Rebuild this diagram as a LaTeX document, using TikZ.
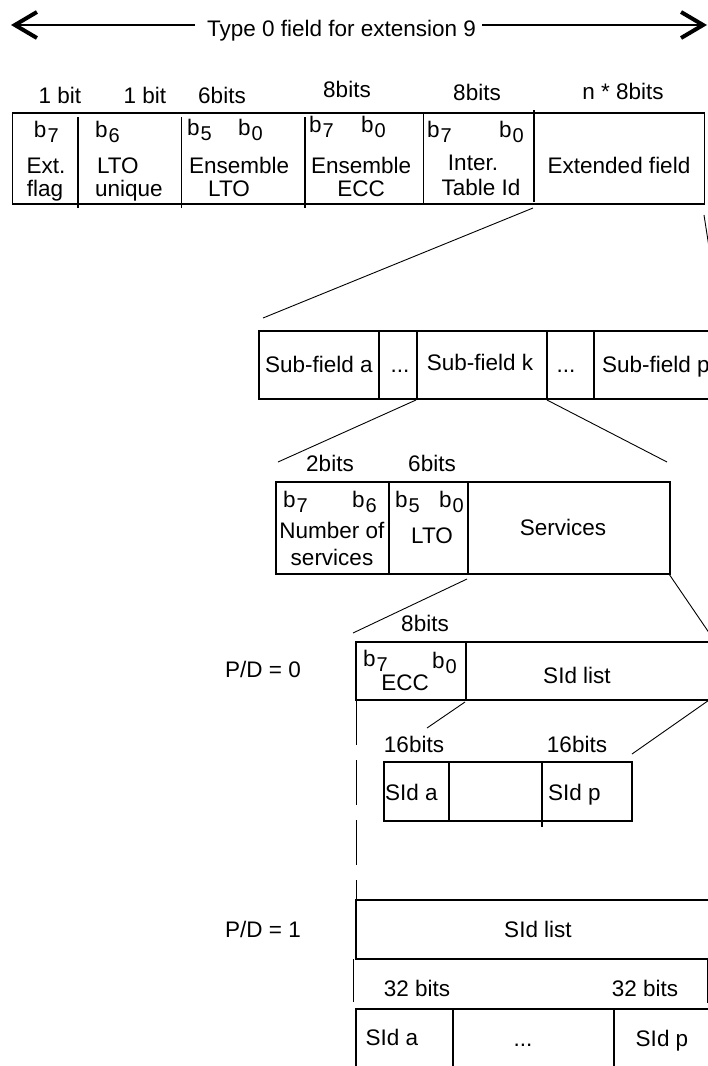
\documentclass[tikz,border=0pt]{standalone}
\usepackage{fontspec}
\setmainfont{Liberation Sans}
\usetikzlibrary{arrows.meta}
\newcommand{\bsub}[1]{b\kern1pt\raisebox{-5pt}{\fontsize{20}{22}\selectfont #1}}
\begin{document}
\begin{tikzpicture}[x=1pt,y=-1pt,
  every node/.style={font=\fontsize{22.5}{27}\selectfont, inner sep=0pt, outer sep=0pt},
  lb/.style={anchor=base},
  lw/.style={anchor=base west},
  box/.style={line width=1.6pt},
  cn/.style={line width=0.9pt},
  tipline/.style={line width=2.6pt, -{Straight Barb[length=22pt,width=26pt,line width=4pt]}}]
\useasboundingbox (0,0) rectangle (708,1066);
\clip (0,0) rectangle (708,1066);

% ---- title arrow
\node[lw] (title) at (207,36.5) {Type 0 field for extension 9};
\coordinate (tL) at (195,25); \coordinate (tR) at (482,25);
\coordinate (eL) at (11,25);  \coordinate (eR) at (707,25);
\draw[tipline] (tL) -- (eL);
\draw[tipline] (tR) -- (eR);

% ---- top field
\node[lb] (h1) at (60,103) {1 bit};
\node[lb] (h2) at (145,103) {1 bit};
\node[lb] (h3) at (222,103) {6bits};
\node[lb] (h4) at (347,97) {8bits};
\node[lb] (h5) at (477,100) {8bits};
\node[lb] (h6) at (623,99) {n * 8bits};

\draw[box] (12.5,113) rectangle (704.5,204);
\draw[box] (78,117) -- (78,208) (181.5,117) -- (181.5,208) (305,117) -- (305,208)
           (423.5,113) -- (423.5,204) (534,110) -- (534,202);

\node[lw] (t1b) at (34,137) {\bsub{7}};
\node[lb] (t1a) at (46,173) {Ext.};
\node[lb] (t1c) at (45,196) {flag};
\node[lw] (t2b) at (95,137) {\bsub{6}};
\node[lw] (t2a) at (97,173) {LTO};
\node[lw] (t2c) at (95,196) {unique};
\node[lw] (t3b) at (187,135) {\bsub{5}};
\node[lw] (t3d) at (238,135) {\bsub{0}};
\node[lw] (t3a) at (189,173) {Ensemble};
\node[lb] (t3c) at (229,196) {LTO};
\node[lw] (t4b) at (309,132) {\bsub{7}};
\node[lw] (t4d) at (361,132) {\bsub{0}};
\node[lw] (t4a) at (311,173) {Ensemble};
\node[lb] (t4c) at (361,196) {ECC};
\node[lw] (t5b) at (427,137) {\bsub{7}};
\node[lw] (t5d) at (499,137) {\bsub{0}};
\node[lb] (t5a) at (473,170) {Inter.};
\node[lb] (t5c) at (481,195) {Table Id};
\node[lb] (t6a) at (619,173) {Extended field};

% ---- sub-field row
\draw[box] (259,331) rectangle (725,399);
\draw[box] (379,331) -- (379,399) (417,331) -- (417,399) (547,331) -- (547,399) (594,331) -- (594,399);
\node[lb] (sa) at (319,372) {Sub-field a};
\node[lb] (sd1) at (400,372) {...};
\node[lb] (sk) at (480,370) {Sub-field k};
\node[lb] (sd2) at (566,372) {...};
\node[lw] (sp) at (602,372) {Sub-field p};

% ---- services row
\node[lb] (b2) at (330,471) {2bits};
\node[lb] (b6) at (432,471) {6bits};
\draw[box] (276,482) rectangle (670,574);
\draw[box] (389,482) -- (389,574) (468,482) -- (468,574);
\node[lw] (n7) at (283,507) {\bsub{7}};
\node[lw] (n6) at (352,507) {\bsub{6}};
\node[lw] (n5) at (395,507) {\bsub{5}};
\node[lw] (n0) at (439,507) {\bsub{0}};
\node[lb] (nn) at (332,538) {Number of};
\node[lb] (ns) at (332,565) {services};
\node[lb] (nl) at (432,543) {LTO};
\node[lb] (nv) at (563,535) {Services};

% ---- P/D = 0
\node[lb] (pd0) at (263,677) {P/D = 0};
\node[lb] (e8) at (425,631) {8bits};
\draw[box] (356,642) rectangle (712,700);
\draw[box] (466,642) -- (466,700);
\node[lw] (e7) at (363,666) {\bsub{7}};
\node[lw] (e0) at (432,668) {\bsub{0}};
\node[lb] (ee) at (405,690) {ECC};
\node[lb] (el) at (577,683) {SId list};

\node[lb] (s16a) at (414,752) {16bits};
\node[lb] (s16b) at (577,752) {16bits};
\draw[box] (384,762) rectangle (632,821);
\draw[box] (449,762) -- (449,821) (542,762) -- (542,827);
\node[lw] (sida) at (385,800) {SId a};
\node[lw] (sidp) at (548,800) {SId p};

% ---- P/D = 1
\node[lb] (pd1) at (263,937) {P/D = 1};
\draw[box] (356,900) rectangle (712,959);
\node[lb] (l1) at (538,937) {SId list};
\node[lb] (s32a) at (417,996) {32 bits};
\node[lb] (s32b) at (645,996) {32 bits};
\draw[box] (356,1009) rectangle (712,1080);
\draw[box] (453,1009) -- (453,1080) (614,1009) -- (614,1080);
\node[lb] (qa) at (392,1045) {SId a};
\node[lb] (qd) at (523,1046) {...};
\node[lb] (qp) at (662,1046) {SId p};

% ---- connectors
\coordinate (c1a) at (533,208); \coordinate (c1b) at (263,318);
\coordinate (c2a) at (704,215); \coordinate (c2b) at (722,331);
\coordinate (c3a) at (416,400); \coordinate (c3b) at (278,462);
\coordinate (c4a) at (547,400); \coordinate (c4b) at (667,462);
\coordinate (c5a) at (467,579); \coordinate (c5b) at (353,633);
\coordinate (c6a) at (669,574); \coordinate (c6b) at (714,640);
\coordinate (c7a) at (465,702); \coordinate (c7b) at (427,728);
\coordinate (c8a) at (712,698); \coordinate (c8b) at (632,754);
\coordinate (c9a) at (356,700); \coordinate (c9b) at (356,900);
\coordinate (c10a) at (353,959); \coordinate (c10b) at (353,1002);
\coordinate (c11a) at (707,960); \coordinate (c11b) at (707,1003);
\draw[cn] (c1a) -- (c1b);
\draw[cn] (c2a) -- (c2b);
\draw[cn] (c3a) -- (c3b);
\draw[cn] (c4a) -- (c4b);
\draw[cn] (c5a) -- (c5b);
\draw[cn] (c6a) -- (c6b);
\draw[cn] (c7a) -- (c7b);
\draw[cn] (c8a) -- (c8b);
\draw[cn, dash pattern=on 45pt off 15pt] (c9a) -- (c9b);
\draw[cn] (c10a) -- (c10b);
\draw[cn] (c11a) -- (c11b);
\end{tikzpicture}
\end{document}
